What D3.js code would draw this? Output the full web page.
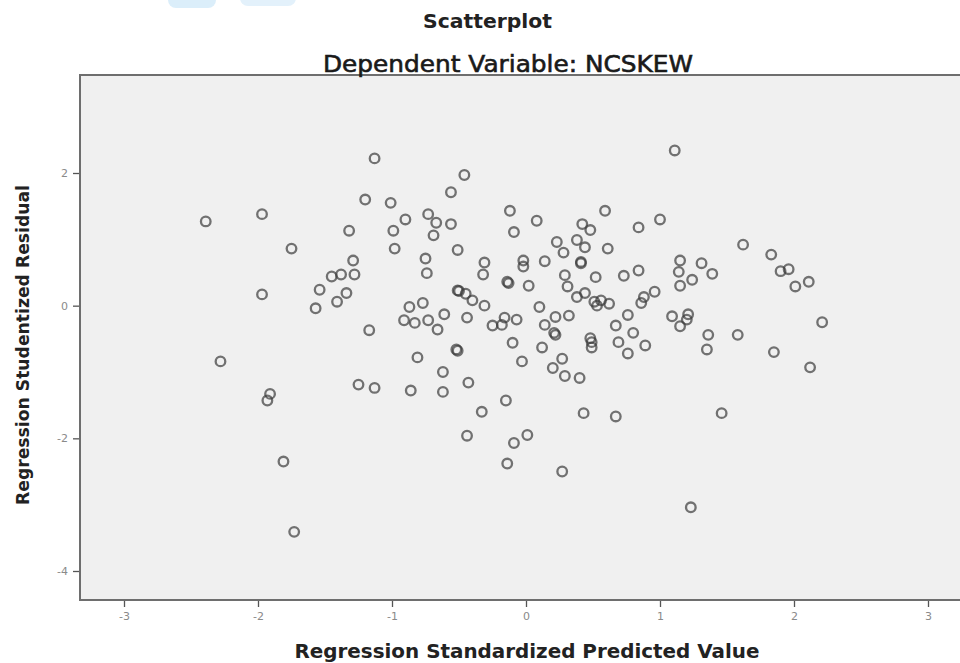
<!DOCTYPE html>
<html>
<head>
<meta charset="utf-8">
<script src="https://cdn.jsdelivr.net/npm/d3@7"></script>
<style>
  html, body { margin: 0; padding: 0; background: #ffffff; }
  svg { display: block; }
</style>
</head>
<body>
<svg id="chart" width="960" height="663"></svg>
<script>
// ---- Data ----
const titleText = "Scatterplot";
const subtitleText = "Dependent Variable: NCSKEW";
const xLabelText = "Regression Standardized Predicted Value";
const yLabelText = "Regression Studentized Residual";

const xTicks = [-3, -2, -1, 0, 1, 2, 3];
const yTicks = [-4, -2, 0, 2];

// Regression standardized predicted value
const predicted = [
  -2.39, -2.28, -1.97, -1.97, -1.91, -1.93, -1.81, -1.75, -1.73, -1.57,
  -1.54, -1.45, -1.41, -1.38, -1.34, -1.32, -1.29, -1.28, -1.25, -1.20,
  -1.17, -1.13, -1.13, -1.01, -0.99, -0.98, -0.90, -0.91, -0.87, -0.86,
  -0.81, -0.83, -0.77, -0.75, -0.73, -0.73, -0.74, -0.69, -0.67, -0.66,
  -0.62, -0.62, -0.61, -0.56, -0.56, -0.52, -0.51, -0.51, -0.51, -0.50,
  -0.45, -0.46, -0.44, -0.44, -0.40, -0.43, -0.33, -0.31, -0.31, -0.32,
  -0.25, -0.18, -0.16, -0.15, -0.14, -0.13, -0.14, -0.12, -0.10, -0.09,
  -0.09, -0.07, -0.02, -0.02, -0.03, 0.01, 0.02, 0.08, 0.10, 0.12,
  0.14, 0.14, 0.20, 0.22, 0.21, 0.22, 0.23, 0.27, 0.28, 0.27,
  0.29, 0.29, 0.31, 0.32, 0.38, 0.38, 0.41, 0.41, 0.40, 0.42,
  0.43, 0.44, 0.44, 0.48, 0.48, 0.49, 0.49, 0.51, 0.52, 0.53,
  0.56, 0.59, 0.61, 0.62, 0.67, 0.67, 0.69, 0.73, 0.76, 0.76,
  0.80, 0.84, 0.86, 0.84, 0.89, 0.88, 0.96, 1.00, 1.09, 1.11,
  1.15, 1.15, 1.14, 1.15, 1.20, 1.21, 1.23, 1.24, 1.31, 1.35,
  1.36, 1.39, 1.46, 1.58, 1.62, 1.83, 1.85, 1.90, 1.96, 2.01,
  2.11, 2.12, 2.21
];

// Regression studentized residual
const residual = [
  1.27, -0.84, 1.38, 0.17, -1.33, -1.43, -2.35, 0.86, -3.41, -0.04,
  0.24, 0.44, 0.06, 0.47, 0.19, 1.13, 0.68, 0.47, -1.19, 1.60,
  -0.37, 2.22, -1.24, 1.55, 1.13, 0.86, 1.30, -0.22, -0.02, -1.28,
  -0.78, -0.26, 0.04, 0.71, 1.38, -0.22, 0.49, 1.06, 1.25, -0.36,
  -1.00, -1.30, -0.13, 1.23, 1.71, -0.66, -0.68, 0.84, 0.23, 0.22,
  0.18, 1.97, -0.18, -1.96, 0.08, -1.16, -1.60, 0.00, 0.65, 0.47,
  -0.30, -0.29, -0.18, -1.43, 0.36, 0.34, -2.38, 1.43, -0.56, -2.07,
  1.11, -0.21, 0.68, 0.59, -0.84, -1.95, 0.30, 1.28, -0.02, -0.63,
  0.67, -0.29, -0.94, -0.17, -0.41, -0.44, 0.96, -0.80, 0.80, -2.50,
  -1.06, 0.46, 0.29, -0.15, 0.99, 0.13, 0.66, 0.64, -1.09, 1.23,
  -1.62, 0.19, 0.88, 1.14, -0.49, -0.55, -0.63, 0.06, 0.43, 0.00,
  0.08, 1.43, 0.86, 0.03, -0.30, -1.67, -0.55, 0.45, -0.72, -0.14,
  -0.41, 1.18, 0.04, 0.53, -0.60, 0.13, 0.21, 1.30, -0.16, 2.34,
  -0.31, 0.68, 0.51, 0.30, -0.21, -0.13, -3.04, 0.39, 0.64, -0.66,
  -0.44, 0.48, -1.62, -0.44, 0.92, 0.77, -0.70, 0.52, 0.55, 0.29,
  0.36, -0.93, -0.25
];

// ---- Layout ----
const svg = d3.select("#chart");
const plotLeft = 80, plotRight = 975, plotTop = 75, plotBottom = 600;

const x = d3.scaleLinear().domain([-3, 3]).range([124, 928]);
const y = d3.scaleLinear().domain([-4, 2]).range([571, 173]);

// plot background
svg.append("rect")
  .attr("x", plotLeft).attr("y", plotTop)
  .attr("width", plotRight - plotLeft).attr("height", plotBottom - plotTop)
  .attr("fill", "#f0f0f0")
  .attr("stroke", "#6e6e6e").attr("stroke-width", 2);

// faint watermark at the top left
svg.append("rect").attr("x", 168).attr("y", -10).attr("width", 48).attr("height", 18)
  .attr("rx", 8).attr("fill", "#dbeefa");
svg.append("rect").attr("x", 240).attr("y", -10).attr("width", 56).attr("height", 16)
  .attr("rx", 8).attr("fill", "#e3f1fb");

const fmt = d => d3.format("d")(d).replace("\u2212", "-");

// X axis
const xAxis = d3.axisBottom(x).tickValues(xTicks).tickSize(6).tickPadding(5).tickFormat(fmt);
const gx = svg.append("g").attr("transform", `translate(0,${plotBottom + 1})`).call(xAxis);
gx.select(".domain").remove();
gx.selectAll(".tick line").attr("stroke", "#555").attr("stroke-width", 1.3);
gx.selectAll(".tick text").attr("fill", "#8a8a8a")
  .style("font-family", "'DejaVu Sans', sans-serif").style("font-size", "11px");

// Y axis
const yAxis = d3.axisLeft(y).tickValues(yTicks).tickSize(6).tickPadding(5).tickFormat(fmt);
const gy = svg.append("g").attr("transform", `translate(${plotLeft - 1},0)`).call(yAxis);
gy.select(".domain").remove();
gy.selectAll(".tick line").attr("stroke", "#555").attr("stroke-width", 1.3);
gy.selectAll(".tick text").attr("fill", "#8a8a8a")
  .style("font-family", "'DejaVu Sans', sans-serif").style("font-size", "11px");

// points
const pts = predicted.map((p, i) => ({ p, r: residual[i] }));
svg.append("g").selectAll("circle").data(pts).join("circle")
  .attr("cx", d => x(d.p)).attr("cy", d => y(d.r))
  .attr("r", 4.8)
  .attr("fill", "none")
  .attr("stroke", "#3a3a3a").attr("stroke-opacity", 0.7)
  .attr("stroke-width", 2.3);

// titles
svg.append("text").attr("x", 487.5).attr("y", 28).attr("text-anchor", "middle")
  .attr("textLength", 129).attr("lengthAdjust", "spacingAndGlyphs")
  .style("font-family", "'DejaVu Sans', sans-serif").style("font-weight", "bold")
  .style("font-size", "20px").attr("fill", "#222").text(titleText);

svg.append("text").attr("x", 508).attr("y", 72).attr("text-anchor", "middle")
  .attr("textLength", 370).attr("lengthAdjust", "spacingAndGlyphs")
  .style("font-family", "'DejaVu Sans', sans-serif")
  .style("font-size", "23px").attr("fill", "#1a1a1a")
  .attr("stroke", "#1a1a1a").attr("stroke-width", 0.6)
  .text(subtitleText);

svg.append("text").attr("x", 527).attr("y", 658).attr("text-anchor", "middle")
  .attr("textLength", 465).attr("lengthAdjust", "spacingAndGlyphs")
  .style("font-family", "'DejaVu Sans', sans-serif").style("font-weight", "bold")
  .style("font-size", "20px").attr("fill", "#222").text(xLabelText);

svg.append("text")
  .attr("transform", "translate(29,345) rotate(-90)")
  .attr("text-anchor", "middle")
  .attr("textLength", 320).attr("lengthAdjust", "spacingAndGlyphs")
  .style("font-family", "'DejaVu Sans', sans-serif").style("font-weight", "bold")
  .style("font-size", "18px").attr("fill", "#222").text(yLabelText);
</script>
</body>
</html>
